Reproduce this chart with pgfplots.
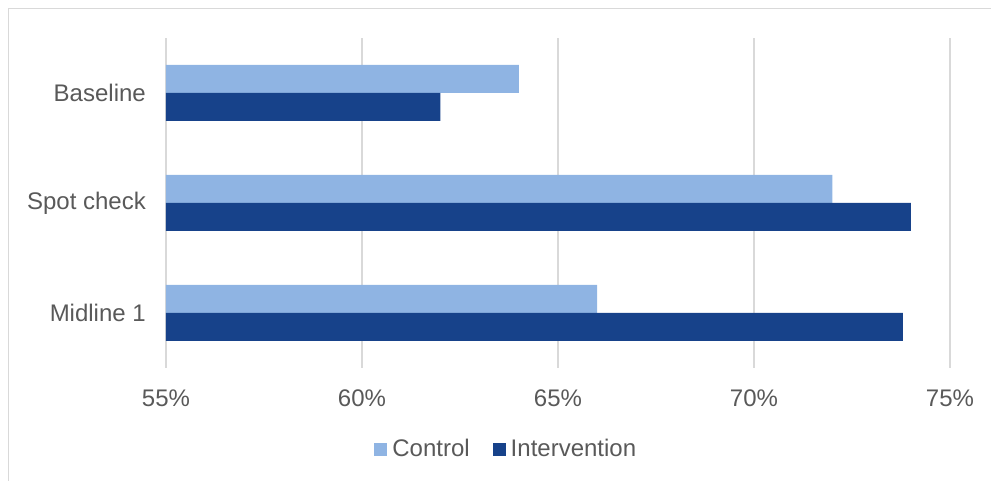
\documentclass[border=0pt]{standalone}
\usepackage{pgfplots}
\pgfplotsset{compat=1.18}
\usepackage{fontspec}
\setmainfont{Liberation Sans}
\definecolor{ctrl}{HTML}{8FB4E3}
\definecolor{interv}{HTML}{17428A}
\definecolor{gridc}{HTML}{D9D9D9}
\definecolor{txt}{HTML}{595959}
\begin{document}
\fontsize{24}{28}\selectfont
\begin{tikzpicture}[x=1pt,y=1pt]
\useasboundingbox (0,0) rectangle (991,481);
\draw[gridc, line width=1.5pt] (8.5,0) -- (8.5,472.5) -- (991,472.5);
\begin{axis}[
  at={(166pt,113pt)}, anchor=south west,
  scale only axis, width=784pt, height=330pt,
  xbar, bar width=28pt,
  xmin=55, xmax=75, ymin=-0.5, ymax=2.5,
  axis line style={draw=none},
  xtick={55,60,65,70,75},
  xticklabels={55\%,60\%,65\%,70\%,75\%},
  ytick={0,1,2},
  yticklabels={Midline 1,Spot check,Baseline},
  major tick length=0pt,
  xmajorgrids, grid style={gridc, line width=1.5pt},
  tick label style={font=\fontsize{24}{28}\selectfont, text=txt},
  /pgf/number format/assume math mode=true,
  yticklabel style={xshift=-12pt},
  xticklabel style={yshift=-14pt},
  legend columns=2,
  legend style={at={(0.434,-0.247)}, anchor=center, draw=none, fill=none,
    font=\fontsize{24}{28}\selectfont, text=txt,
    /tikz/every even column/.append style={column sep=21pt}},
  legend image code/.code={\fill[#1] (0pt,-6.5pt) rectangle (13pt,6.5pt); \path (16pt,0pt);},
]
\addplot[fill=ctrl, draw=none, bar shift=14pt] coordinates {(66,0) (72,1) (64,2)};
\addplot[fill=interv, draw=none, bar shift=-14pt] coordinates {(73.8,0) (74,1) (62,2)};
\legend{Control,Intervention}
\end{axis}
\end{tikzpicture}
\end{document}
